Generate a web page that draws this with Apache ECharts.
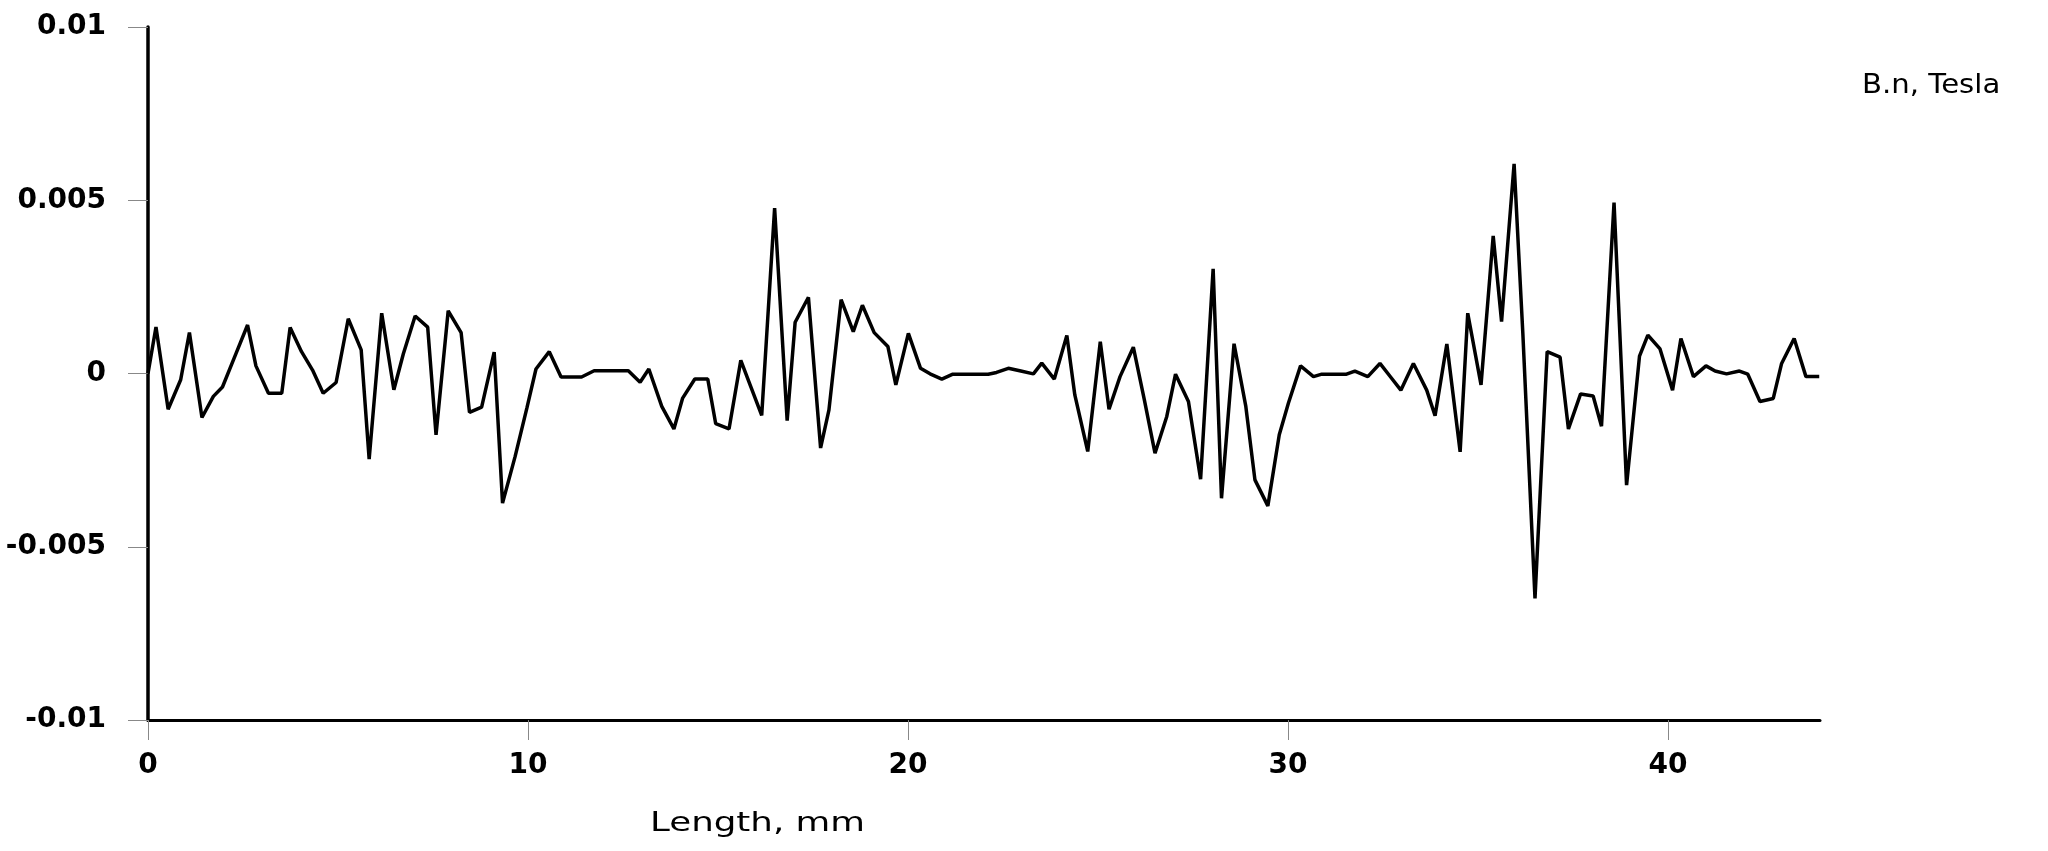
<!DOCTYPE html>
<html>
<head>
<meta charset="utf-8">
<script src="https://cdn.jsdelivr.net/npm/echarts@6/dist/echarts.min.js"></script>
<style>html,body{margin:0;padding:0;background:#fff;}#c{width:2048px;height:851px;}</style>
</head>
<body>
<div id="c"></div>
<script>
const xTicks = [0, 10, 20, 30, 40];
const yTicks = [-0.01, -0.005, 0, 0.005, 0.01];
const lengthMm = [
 0.00,0.21,0.53,0.86,1.09,1.42,1.72,1.96,2.32,2.62,2.84,3.17,3.52,3.74,4.04,4.33,4.61,4.95,5.27,5.61,
 5.82,6.15,6.47,6.72,7.03,7.36,7.58,7.90,8.24,8.46,8.78,9.11,9.33,9.66,9.97,10.21,10.56,
 10.87,11.14,11.41,11.74,12.04,12.33,12.64,12.95,13.18,13.52,13.84,14.07,14.39,14.73,14.94,15.29,15.60,15.87,
 16.15,16.49,16.82,17.03,17.38,17.70,17.92,18.24,18.56,18.80,19.11,19.47,19.68,20.01,20.33,20.58,20.89,
 21.18,21.49,21.80,22.11,22.33,22.64,22.97,23.30,23.52,23.85,24.18,24.39,24.73,25.06,25.29,25.58,25.93,
 26.22,26.50,26.81,27.04,27.38,27.70,28.03,28.25,28.58,28.89,29.13,29.47,29.77,30.01,30.33,30.67,30.89,31.24,
 31.54,31.76,32.10,32.42,32.70,32.97,33.30,33.65,33.87,34.18,34.53,34.73,35.08,35.40,35.62,35.95,36.18,
 36.50,36.82,37.16,37.38,37.70,38.03,38.25,38.58,38.91,39.25,39.47,39.79,40.12,40.34,40.67,41.00,41.24,
 41.54,41.88,42.10,42.42,42.77,42.99,43.32,43.63,43.98
];
const bnTesla = [
 0,0.00134,-0.00103,-0.00018,0.00118,-0.00127,-0.00066,-0.00039,0.00059,0.0014,0.00022,-0.00057,-0.00057,0.00133,0.00063,0.0001,-0.00057,-0.00026,0.00158,0.00068,
 -0.00247,0.00174,-0.00047,0.00057,0.00166,0.00134,-0.00177,0.00181,0.00118,-0.00112,-0.00097,0.00062,-0.00374,-0.0024,-0.001,0.00013,0.00063,
 -0.0001,-0.0001,-0.0001,0.00008,0.00008,0.00008,0.00008,-0.00025,0.00013,-0.00095,-0.0016,-0.00071,-0.00016,-0.00016,-0.00145,-0.0016,0.00038,-0.0004,
 -0.00121,0.00477,-0.00136,0.00148,0.0022,-0.00215,-0.00105,0.00213,0.00121,0.00197,0.00118,0.00078,-0.00033,0.00116,0.00015,-0.00001,-0.00016,
 -0.00002,-0.00002,-0.00002,-0.00002,0.00003,0.00015,0.00007,-0.00001,0.0003,-0.00016,0.0011,-0.00062,-0.00225,0.00092,-0.00103,-0.00009,0.00076,
 -0.00076,-0.0023,-0.00124,-0.00002,-0.00081,-0.00305,0.00302,-0.0036,0.00086,-0.00095,-0.00307,-0.00382,-0.00177,-0.00086,0.00022,-0.00009,-0.00002,-0.00002,
 -0.00002,0.00007,-0.00009,0.00029,-0.0001,-0.00048,0.00029,-0.00048,-0.00122,0.00085,-0.00226,0.00174,-0.00033,0.00397,0.0015,0.00605,0.00116,
 -0.00649,0.00063,0.00047,-0.0016,-0.00059,-0.00065,-0.00152,0.00493,-0.00322,0.0005,0.00111,0.00071,-0.00048,0.00101,-0.00009,0.00022,0.00007,
 -0.00001,0.00007,-0.00002,-0.00081,-0.00072,0.00029,0.00101,-0.00009,-0.00009
];
const xName = 'Length, mm';
const yName = 'B.n, Tesla';

const seriesData = lengthMm.map((x, i) => [x, bnTesla[i]]);
const chart = echarts.init(document.getElementById('c'), null, {renderer: 'canvas'});
const font = "'DejaVu Sans', Verdana, sans-serif";
chart.setOption({
  animation: false,
  backgroundColor: '#fff',
  grid: {left: 148, right: 228, top: 27, bottom: 131, containLabel: false},
  xAxis: {
    type: 'value', min: 0, max: 44, interval: 10,
    splitLine: {show: false},
    axisLine: {show: true, onZero: false, lineStyle: {color: '#000', width: 3}},
    axisTick: {show: true, length: 20, customValues: xTicks, lineStyle: {color: '#888', width: 1}},
    axisLabel: {customValues: xTicks, margin: 32, fontSize: 28, fontWeight: 'bold', color: '#000', fontFamily: font}
  },
  yAxis: {
    type: 'value', min: -0.01, max: 0.01, interval: 0.005,
    splitLine: {show: false},
    axisLine: {show: true, onZero: false, lineStyle: {color: '#000', width: 3.5}},
    axisTick: {show: true, length: 20, customValues: yTicks, lineStyle: {color: '#888', width: 1}},
    axisLabel: {customValues: yTicks, margin: 42, fontSize: 28, fontWeight: 'bold', color: '#000', fontFamily: font,
      formatter: v => String(+(+v).toFixed(3))}
  },
  graphic: [
    {type: 'text', left: 650, top: 810, scaleX: 1.32,
     style: {text: xName, fontSize: 27, fill: '#000', fontFamily: font}},
    {type: 'text', left: 1862, top: 72, scaleX: 1.08,
     style: {text: yName, fontSize: 27, fill: '#000', fontFamily: font}}
  ],
  series: [{
    type: 'line', data: seriesData, symbol: 'none', smooth: false,
    lineStyle: {color: '#000', width: 3.5}
  }]
});
</script>
</body>
</html>
